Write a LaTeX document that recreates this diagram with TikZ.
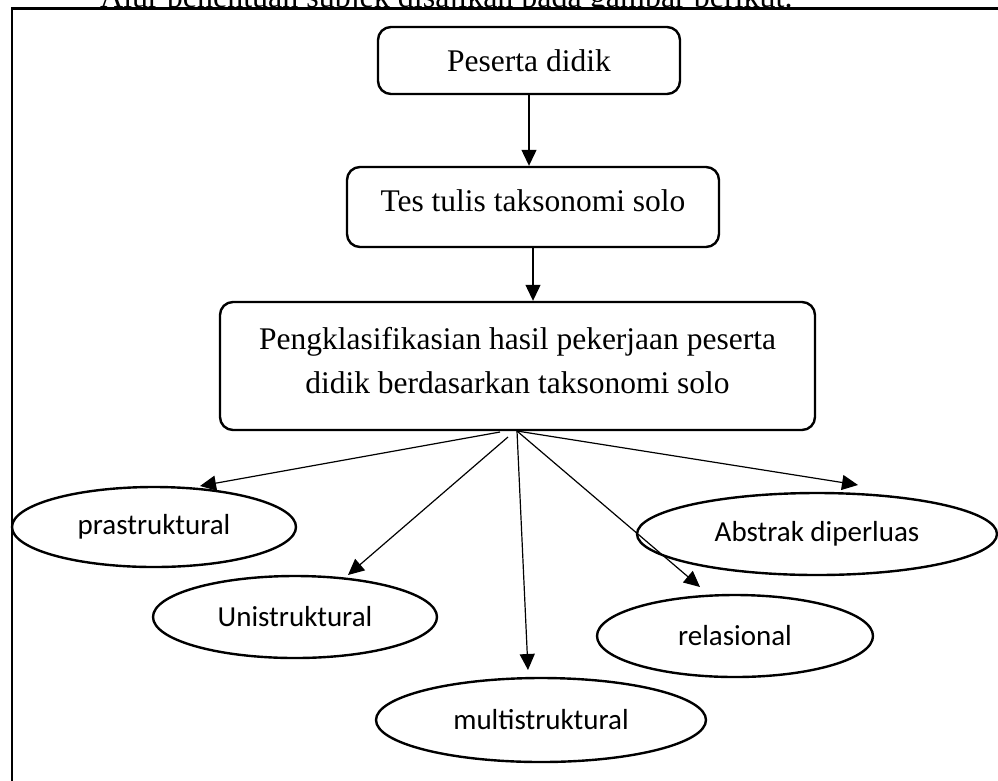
\documentclass[tikz,border=0pt]{standalone}
\usepackage{fontspec}
\setmainfont{Liberation Serif}
\newfontfamily\calib{Carlito}
\usetikzlibrary{shapes.geometric,arrows.meta}
\begin{document}
\begin{tikzpicture}[x=1pt,y=-1pt,
  box/.style={draw, line width=2.4pt, rounded corners=13pt, align=center,
    font=\fontsize{31.5}{44}\selectfont, inner sep=0pt},
  oval/.style={draw, ellipse, line width=2.4pt, inner sep=0pt,
    font=\calib\fontsize{29}{34}\selectfont},
  arr/.style={line width=1.2pt, -{Triangle[length=16pt,width=15pt]}}]
\useasboundingbox (0,0) rectangle (998,780);
\begin{scope}
\clip (0,0) rectangle (998,780);
\node[anchor=base west, inner sep=0pt, font=\fontsize{32}{38}\selectfont] (caption) at (100,7) {Alur penentuan subjek disajikan pada gambar berikut.};
\draw[line width=2.5pt, fill=white] (12,8.5) rectangle (1030,810);
\end{scope}

\node[box, minimum width=302pt, minimum height=67pt] (p1) at (529,60.5) {Peserta didik};
\node[box, minimum width=372pt, minimum height=80pt, text depth=12pt] (p2) at (533,207) {Tes tulis taksonomi solo};
\node[box, minimum width=595pt, minimum height=128pt, text depth=12pt] (p3) at (517.5,366) {Pengklasifikasian hasil pekerjaan peserta\\didik berdasarkan taksonomi solo};

\node[oval, minimum width=284pt, minimum height=80pt] (e1) at (154,527) {prastruktural};
\node[oval, minimum width=284pt, minimum height=82pt] (e2) at (295,617) {Unistruktural};
\node[oval, minimum width=330pt, minimum height=84pt] (e3) at (541,720) {multistruktural};
\node[oval, minimum width=276pt, minimum height=82pt] (e4) at (735,636) {relasional};
\node[oval, minimum width=360pt, minimum height=82pt] (e5) at (817,534) {Abstrak diperluas};

\draw[arr] (p1.south) -- (p1.south |- p2.north);
\draw[arr] (p2.south) -- (p2.south |- p3.north);

\coordinate (o) at (517,431);
\coordinate (s1) at (500,432);
\coordinate (s2) at (508,437);
\coordinate (t1) at (200,486);
\coordinate (t2) at (348,575);
\coordinate (t3) at (528,670);
\coordinate (t4) at (700,587);
\coordinate (t5) at (858,485);

\draw[arr] (s1) -- (t1);
\draw[arr] (s2) -- (t2);
\draw[arr] (o) -- (t3);
\draw[arr] (o) -- (t4);
\draw[arr] (o) -- (t5);
\end{tikzpicture}
\end{document}
